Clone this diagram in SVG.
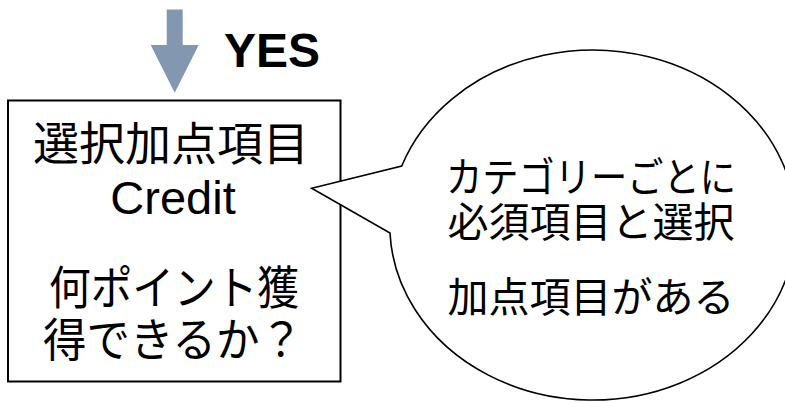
<svg xmlns="http://www.w3.org/2000/svg" width="785" height="403" viewBox="0 0 785 403">
<style>
.t{font-family:"Liberation Sans","Noto Sans CJK JP",sans-serif;fill:#000;text-anchor:middle}
.jp{font-family:"Noto Sans CJK JP","Liberation Sans",sans-serif;fill:#000;text-anchor:middle}
</style>
<rect width="785" height="403" fill="#fff"/>
<g id="connectors">
<path d="M166.7,9.5 H182.7 V45 H198.7 L174.7,92.7 L150.7,45 H166.7 Z" fill="#8497b0"/>
<text class="t" x="224" y="67" font-size="48" font-weight="bold" style="text-anchor:start">YES</text>
</g>
<g id="box">
<rect x="8" y="100.5" width="332.5" height="281" fill="#fff" stroke="#000" stroke-width="2"/>
<text class="jp" x="171" y="160" font-size="46" textLength="276" lengthAdjust="spacingAndGlyphs">選択加点項目</text>
<text class="t" x="173" y="214" font-size="47">Credit</text>
<text class="jp" x="174" y="304" font-size="46" textLength="250" lengthAdjust="spacingAndGlyphs">何ポイント獲</text>
<text class="jp" x="173" y="356" font-size="46" textLength="260" lengthAdjust="spacingAndGlyphs">得できるか？</text>
</g>
<g id="bubble">
<path d="M401.7,166 A203 175 0 1 1 390,233 L311.7,188.3 Z" fill="#fff" stroke="#000" stroke-width="1.6" stroke-linejoin="miter"/>
<text class="jp" x="591" y="192" font-size="41" textLength="290" lengthAdjust="spacingAndGlyphs">カテゴリーごとに</text>
<text class="jp" x="591" y="237" font-size="41" textLength="287" lengthAdjust="spacingAndGlyphs">必須項目と選択</text>
<text class="jp" x="591" y="312" font-size="41" textLength="287" lengthAdjust="spacingAndGlyphs">加点項目がある</text>
</g>
</svg>
